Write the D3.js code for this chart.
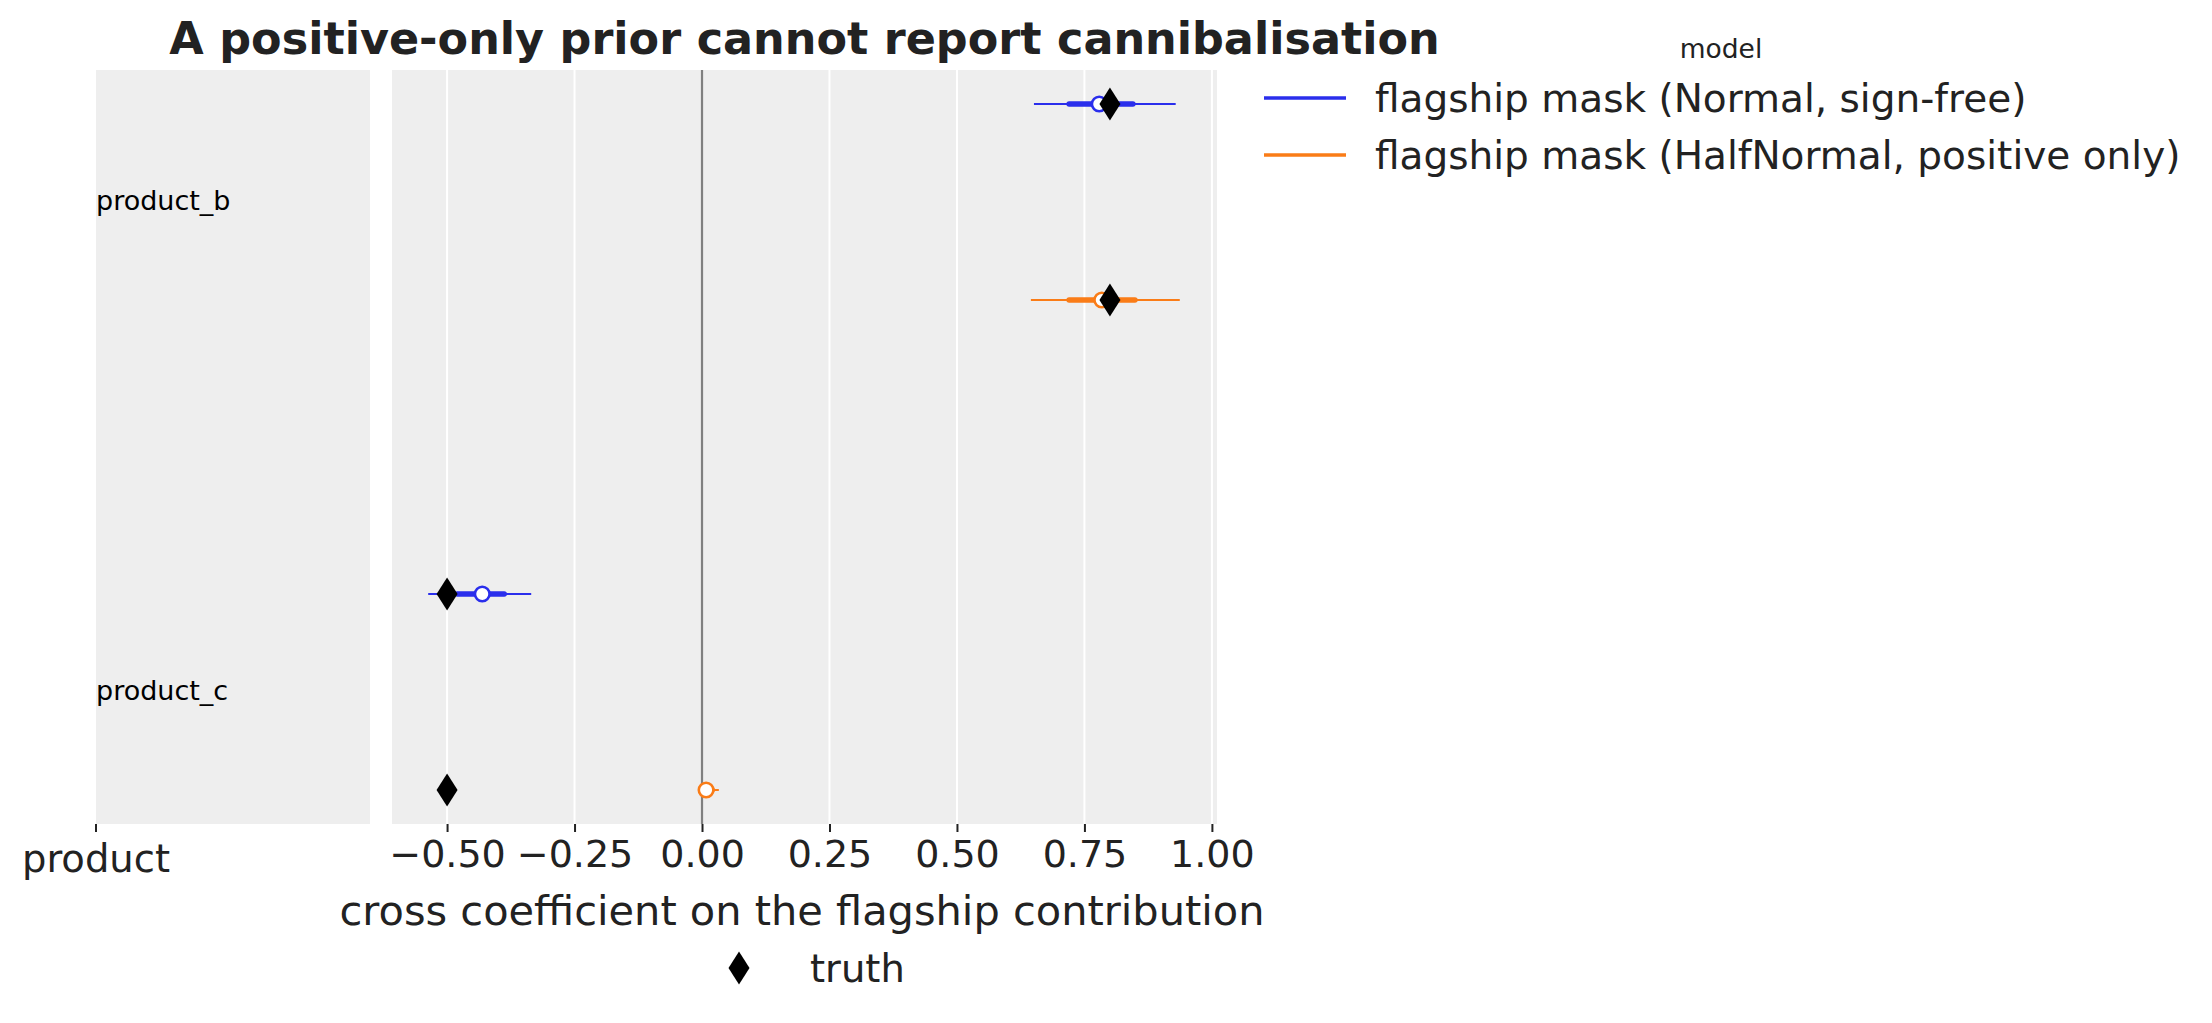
<!DOCTYPE html>
<html>
<head>
<meta charset="utf-8">
<script src="https://cdn.jsdelivr.net/npm/d3@7"></script>
<style>
  body { margin: 0; background: #fff; }
  text { font-family: "DejaVu Sans", sans-serif; fill: #222; }
</style>
</head>
<body>
<svg width="2212" height="1023"></svg>
<script>
const products = ['product_b', 'product_c'];
const models = ['flagship mask (Normal, sign-free)', 'flagship mask (HalfNormal, positive only)'];
const colors = ['#2a2eec', '#fa7c17'];

// posterior summaries per product, one entry per model: [hdi low, iqr low, mean, iqr high, hdi high]
const normalRows = [
  [0.651, 0.720, 0.779, 0.845, 0.929],
  [-0.537, -0.480, -0.431, -0.388, -0.335]
];
const halfNormalRows = [
  [0.645, 0.720, 0.784, 0.849, 0.937],
  [0.000, 0.001, 0.008, 0.020, 0.033]
];
const truth = [0.80, -0.50];
const xTicks = [-0.5, -0.25, 0, 0.25, 0.5, 0.75, 1.0];

const svg = d3.select('svg');
svg.append('rect').attr('width', 2212).attr('height', 1023).attr('fill', '#fff');

const panelTop = 70, panelBottom = 824;
const x = d3.scaleLinear().domain([-0.608, 1.01]).range([392, 1217]);
const yGroup = d3.scalePoint().domain(products).range([202, 692]);
const yModel = d3.scalePoint().domain(models).range([-98, 98]);

// label panel
svg.append('rect')
    .attr('x', 96).attr('y', panelTop)
    .attr('width', 370 - 96).attr('height', panelBottom - panelTop)
    .attr('fill', '#eeeeee');

svg.selectAll('.plabel')
  .data(products)
  .join('text')
    .attr('class', 'plabel')
    .attr('x', 96)
    .attr('y', d => yGroup(d) - 2)
    .attr('dominant-baseline', 'central')
    .attr('font-size', 27)
    .style('fill', '#000')
    .text(d => d);

// plot panel
svg.append('rect')
    .attr('x', x.range()[0]).attr('y', panelTop)
    .attr('width', x.range()[1] - x.range()[0]).attr('height', panelBottom - panelTop)
    .attr('fill', '#eeeeee');

svg.selectAll('.grid')
  .data(xTicks)
  .join('line')
    .attr('class', 'grid')
    .attr('x1', d => x(d)).attr('x2', d => x(d))
    .attr('y1', panelTop).attr('y2', panelBottom)
    .attr('stroke', '#fff')
    .attr('stroke-width', 2);

svg.append('line')
    .attr('x1', x(0)).attr('x2', x(0))
    .attr('y1', panelTop).attr('y2', panelBottom)
    .attr('stroke', '#808080')
    .attr('stroke-width', 2.2);

// x axis
const xAxis = svg.append('g')
    .attr('transform', `translate(0, ${panelBottom})`)
    .call(d3.axisBottom(x).tickValues(xTicks).tickSize(8).tickPadding(8)
      .tickFormat(d => d3.format('.2f')(d).replace('-', '\u2212')));
xAxis.select('.domain').remove();
xAxis.selectAll('.tick line').attr('stroke', '#222').attr('stroke-width', 2);
xAxis.selectAll('.tick text').attr('font-size', 38).attr('font-family', '"DejaVu Sans"').attr('fill', '#222');

// y "axis" tick for the label column
svg.append('line')
    .attr('x1', 96).attr('x2', 96)
    .attr('y1', panelBottom).attr('y2', panelBottom + 8)
    .attr('stroke', '#222').attr('stroke-width', 2);
svg.append('text')
    .attr('x', 96).attr('y', 858)
    .attr('text-anchor', 'middle')
    .attr('dominant-baseline', 'central')
    .attr('font-size', 38.5)
    .text('product');

svg.append('text')
    .attr('x', 802).attr('y', 910)
    .attr('text-anchor', 'middle')
    .attr('dominant-baseline', 'central')
    .attr('font-size', 41.5)
    .text('cross coefficient on the flagship contribution');

// forest rows
const series = [normalRows, halfNormalRows];
series.forEach((rows, mi) => {
  const g = svg.append('g');
  const c = colors[mi];
  const yy = (d, i) => yGroup(products[i]) + yModel(models[mi]);
  g.selectAll('.hdi').data(rows).join('line')
      .attr('x1', d => x(d[0])).attr('x2', d => x(d[4]))
      .attr('y1', yy).attr('y2', yy)
      .attr('stroke', c).attr('stroke-width', 2);
  g.selectAll('.iqr').data(rows).join('line')
      .attr('x1', d => x(d[1])).attr('x2', d => x(d[3]))
      .attr('y1', yy).attr('y2', yy)
      .attr('stroke', c).attr('stroke-width', 5.5)
      .attr('stroke-linecap', 'round');
  g.selectAll('circle').data(rows).join('circle')
      .attr('cx', d => x(d[2])).attr('cy', yy)
      .attr('r', 7.3)
      .attr('fill', '#fff')
      .attr('stroke', c).attr('stroke-width', 2.6);
});

const diamond = 'M0,-16.5L10.5,0L0,16.5L-10.5,0Z';
products.forEach((p, i) => {
  models.forEach(m => {
    svg.append('path')
        .attr('d', diamond)
        .attr('transform', `translate(${x(truth[i])}, ${yGroup(p) + yModel(m)})`)
        .attr('fill', '#000');
  });
});

// title
svg.append('text')
    .attr('x', (x.range()[0] + x.range()[1]) / 2)
    .attr('y', 54)
    .attr('text-anchor', 'middle')
    .attr('font-size', 44.5)
    .attr('font-weight', 'bold')
    .text('A positive-only prior cannot report cannibalisation');

// model legend
svg.append('text')
    .attr('x', 1721).attr('y', 48)
    .attr('text-anchor', 'middle')
    .attr('dominant-baseline', 'central')
    .attr('font-size', 26.5)
    .text('model');
const legY = d3.scalePoint().domain(models).range([98, 155]);
models.forEach((m, i) => {
  svg.append('line')
      .attr('x1', 1264).attr('x2', 1346)
      .attr('y1', legY(m)).attr('y2', legY(m))
      .attr('stroke', colors[i]).attr('stroke-width', 3.3);
  svg.append('text')
      .attr('x', 1375).attr('y', legY(m))
      .attr('dominant-baseline', 'central')
      .attr('font-size', 39)
      .text(m);
});

// truth legend
svg.append('path')
    .attr('d', diamond)
    .attr('transform', 'translate(739, 968)')
    .attr('fill', '#000');
svg.append('text')
    .attr('x', 810).attr('y', 968)
    .attr('dominant-baseline', 'central')
    .attr('font-size', 38.5)
    .text('truth');
</script>
</body>
</html>
